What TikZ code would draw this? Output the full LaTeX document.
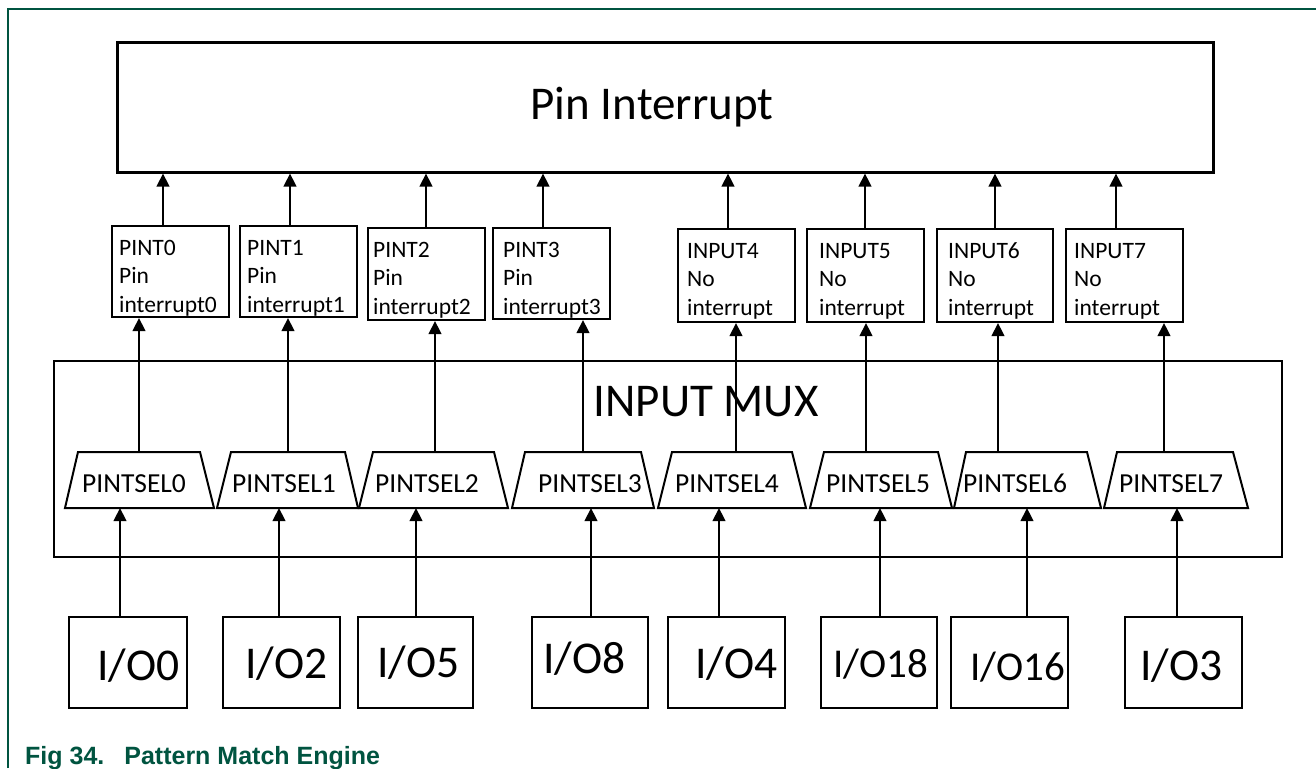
\documentclass[tikz,border=0pt]{standalone}
\usepackage{fontspec}
\setmainfont{Carlito}
\newfontfamily\capfont{Liberation Sans}
\usetikzlibrary{arrows.meta,fit}
\definecolor{nxpgreen}{RGB}{0,84,64}
\begin{document}
\begin{tikzpicture}[x=1pt,y=-1pt,
  frame/.style={draw=nxpgreen, line width=1.6pt},
  bigbox/.style={draw, line width=3pt, inner sep=0pt},
  muxbox/.style={draw, line width=1.5pt, inner sep=0pt},
  pbox/.style={draw, line width=2pt, inner sep=0pt},
  iobox/.style={draw, line width=2pt, inner sep=0pt},
  trap/.style={draw, line width=2pt, line join=miter},
  arr/.style={line width=2.3pt, -{Triangle[width=12.5pt,length=13pt]}},
  ptext/.style={inner sep=0pt, anchor=base west, font=\fontsize{23.5}{28.5}\selectfont},
  seltext/.style={inner sep=0pt, anchor=base west, font=\fontsize{27.5}{32}\selectfont},
  iotext/.style={inner sep=0pt, anchor=base west, font=\fontsize{45.5}{50}\selectfont},
  iotextsm/.style={inner sep=0pt, anchor=base west, font=\fontsize{41}{46}\selectfont},
  bigtext/.style={inner sep=0pt, anchor=base, font=\fontsize{47}{52}\selectfont},
  captext/.style={inner sep=0pt, anchor=base west, text=nxpgreen, font=\capfont\bfseries\fontsize{25}{28}\selectfont}
]
\useasboundingbox (0,0) rectangle (1316,768);
\fill[white] (0,0) rectangle (1316,768);

% frame
\coordinate (fbl) at (8,768);
\coordinate (ftl) at (8,9);
\coordinate (ftr) at (1316,9);
\draw[frame] (fbl) -- (ftl) -- (ftr);

% Pin Interrupt
\node[bigbox, fit={(117,43) (1213,172)}] (pin) {};
\node[bigtext] (pintxt) at (652,119) {Pin Interrupt};

% INPUT MUX
\node[muxbox, fit={(54,361) (1282,557)}] (mux) {};
\node[bigtext] (muxtxt) at (706,416) {INPUT MUX};

% PINTSEL trapezoids
\foreach \i/\bl/\br/\tl/\tr/\tx/\ain/\aout in {
  0/65/214/78/200/82/120/139,
  1/217/358/231/345/232/279/288,
  2/359/508/373/494/375/416/435,
  3/512/654/525/641/538/591/583,
  4/658/806/672/792/675/719/736,
  5/810/952/824/938/826/880/866,
  6/954/1101/966/1087/963/1027/998,
  7/1104/1248/1117/1233/1119/1177/1164}{
  \draw[trap] (\bl,508) -- (\tl,452) -- (\tr,452) -- (\br,508) -- cycle;
  \node[seltext] (s\i) at (\tx,492) {PINTSEL\i};
  \coordinate (sin\i) at (\ain,508);
  \coordinate (sout\i) at (\aout,452);
}

% PINT / INPUT boxes
\foreach \i/\xa/\xb/\ya/\yb/\ins/\xt/\txt in {
  0/112/229/226/317/7/163/{PINT0\\Pin\\interrupt0},
  1/240/357/226/317/7/290/{PINT1\\Pin\\interrupt1},
  2/368/485/228/320/5/426/{PINT2\\Pin\\interrupt2},
  3/493/610/228/319/10/543/{PINT3\\Pin\\interrupt3},
  4/678/795/229/322/9/728/{INPUT4\\No\\interrupt},
  5/807/924/229/322/12/865/{INPUT5\\No\\interrupt},
  6/937/1053/229/322/11/995/{INPUT6\\No\\interrupt},
  7/1066/1183/229/322/8/1116/{INPUT7\\No\\interrupt}}{
  \node[pbox, fit={(\xa,\ya) (\xb,\yb)}] (p\i) {};
  \node[ptext] (pt\i) at (\xa+\ins,\ya+29) {\parbox[t]{115pt}{\raggedright\txt}};
  \coordinate (ptop\i) at (\xt,\ya);
  \draw[arr] (ptop\i) -- (ptop\i |- pin.south);
  \draw[arr] (sout\i) -- (sout\i |- p\i.south);
}

% I/O boxes
\foreach \i/\xa/\xb/\tx/\ty/\sty/\txt in {
  0/69/187/97/680/iotext/{I/O0},
  1/223/340/245/678/iotext/{I/O2},
  2/358/473/377/677/iotext/{I/O5},
  3/532/648/543/673/iotext/{I/O8},
  4/668/785/695/678/iotext/{I/O4},
  5/821/937/833/677/iotextsm/{I/O18},
  6/951/1068/970/680/iotextsm/{I/O16},
  7/1125/1242/1140/680/iotext/{I/O3}}{
  \node[iobox, fit={(\xa,617) (\xb,708)}] (io\i) {};
  \node[\sty] (iot\i) at (\tx,\ty) {\txt};
  \draw[arr] (sin\i |- io\i.north) -- (sin\i);
}

% caption
\node[captext] (cap) at (25,764) {Fig 34.\hspace{20pt}Pattern Match Engine};
\end{tikzpicture}
\end{document}
